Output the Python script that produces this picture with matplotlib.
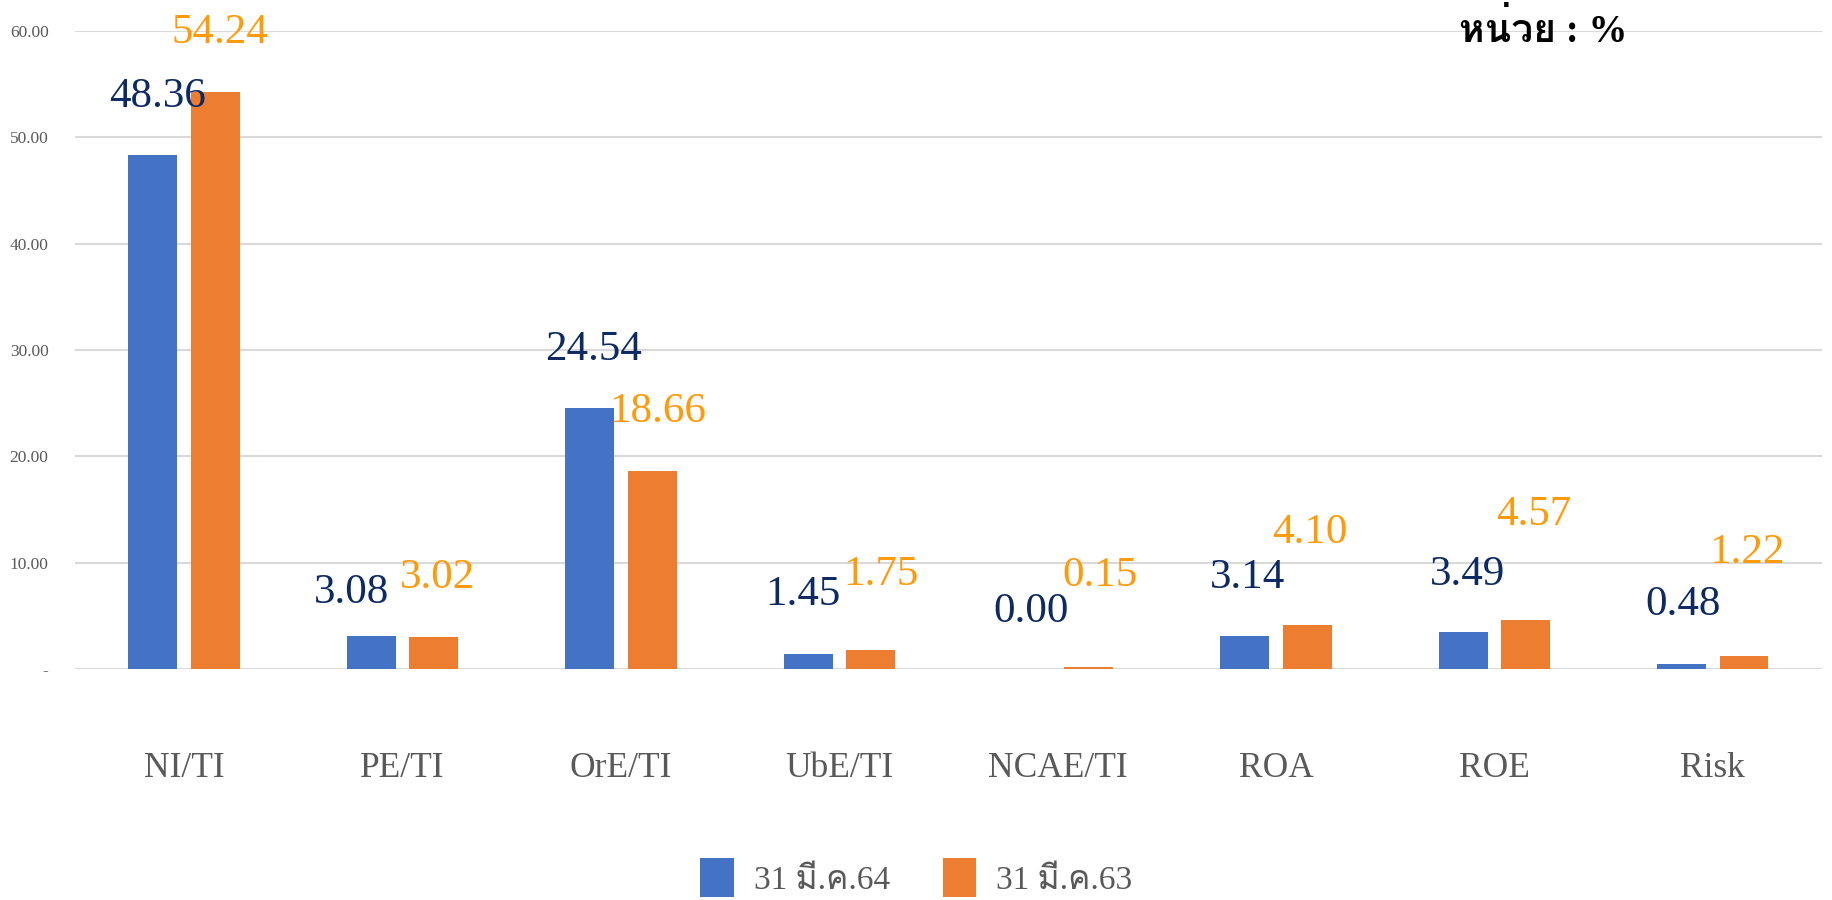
import matplotlib
matplotlib.use('Agg')
import matplotlib.pyplot as plt
from matplotlib import font_manager
from matplotlib.ft2font import FT2Font
import numpy as np

# ---- data ----
categories = ['NI/TI', 'PE/TI', 'OrE/TI', 'UbE/TI', 'NCAE/TI', 'ROA', 'ROE', 'Risk']
series_64 = [48.36, 3.08, 24.54, 1.45, 0.00, 3.14, 3.49, 0.48]
series_63 = [54.24, 3.02, 18.66, 1.75, 0.15, 4.10, 4.57, 1.22]
series_names = ['31 มี.ค.64', '31 มี.ค.63']
yticks = [0, 10, 20, 30, 40, 50, 60]
ytick_labels = ['-', '10.00', '20.00', '30.00', '40.00', '50.00', '60.00']
unit_label = 'หน่วย : %'

# ---- layout (manual label offsets: dx in category units, dy in value units, baseline) ----
off_64 = [(0.021, 4.49), (-0.093, 3.13), (0.019, 4.52), (-0.024, 4.57),
          (0.020, 4.42), (0.014, 4.48), (0.021, 4.41), (0.006, 4.60)]
off_63 = [(0.021, 4.63), (0.015, 4.60), (0.026, 4.57), (0.048, 6.15),
          (0.050, 7.66), (0.012, 7.75), (0.037, 8.97), (0.013, 8.75)]


def find_thai_font():
    seen = set()
    for f in font_manager.fontManager.ttflist:
        if f.name in seen:
            continue
        seen.add(f.name)
        try:
            cmap = FT2Font(f.fname).get_charmap()
        except Exception:
            continue
        if 0x0E2B in cmap and 0x0E48 in cmap and 0x0E21 in cmap:
            return f.name
    return None


thai = find_thai_font()
serif = ['Liberation Serif']
thai_fam = serif + ([thai] if thai else []) + ['DejaVu Sans']
plt.rcParams['font.family'] = serif

blue = '#4472C4'
orange = '#ED7D31'
lab_blue = '#0E2A63'
lab_orange = '#FF9A0A'
grey = '#595959'

fig = plt.figure(figsize=(18.33, 9.0), dpi=100)
ax = fig.add_axes([0.0409, 0.2567, 0.9531, 0.7089])

x = np.arange(len(categories))
w = 0.224
sh = 0.143
ax.bar(x - sh, series_64, width=w, color=blue, label=series_names[0], zorder=3)
ax.bar(x + sh, series_63, width=w, color=orange, label=series_names[1], zorder=3)

for i in range(len(categories)):
    dx, dy = off_64[i]
    ax.text(x[i] - sh + dx, series_64[i] + dy, f'{series_64[i]:.2f}', ha='center', va='baseline',
            fontsize=31, color=lab_blue, clip_on=False, zorder=4)
    dx, dy = off_63[i]
    ax.text(x[i] + sh + dx, series_63[i] + dy, f'{series_63[i]:.2f}', ha='center', va='baseline',
            fontsize=31, color=lab_orange, clip_on=False, zorder=4)

ax.set_xlim(-0.5, len(categories) - 0.5)
ax.set_ylim(0, 60)
ax.set_yticks(yticks)
ax.set_yticklabels(ytick_labels, fontsize=12.5, color=grey)
ax.set_xticks(x)
ax.set_xticklabels(categories, fontsize=25.5, color=grey)
ax.tick_params(axis='both', length=0)
ax.tick_params(axis='x', pad=60)
ax.tick_params(axis='y', pad=19)
ax.grid(axis='y', color='#D9D9D9', linewidth=1.5, zorder=0)
for s in ax.spines.values():
    s.set_visible(False)

fig.text(0.842, 0.966, unit_label, ha='center', va='center', fontsize=28, fontweight='bold',
         color='black', family=thai_fam)

leg = fig.legend(loc='center', bbox_to_anchor=(0.5, 0.025), ncol=2, frameon=False,
                 prop={'family': thai_fam, 'size': 24}, handlelength=1.0, handleheight=1.4,
                 columnspacing=1.6, handletextpad=0.6)
for t in leg.get_texts():
    t.set_color(grey)

fig.savefig('out.png', dpi=100)
